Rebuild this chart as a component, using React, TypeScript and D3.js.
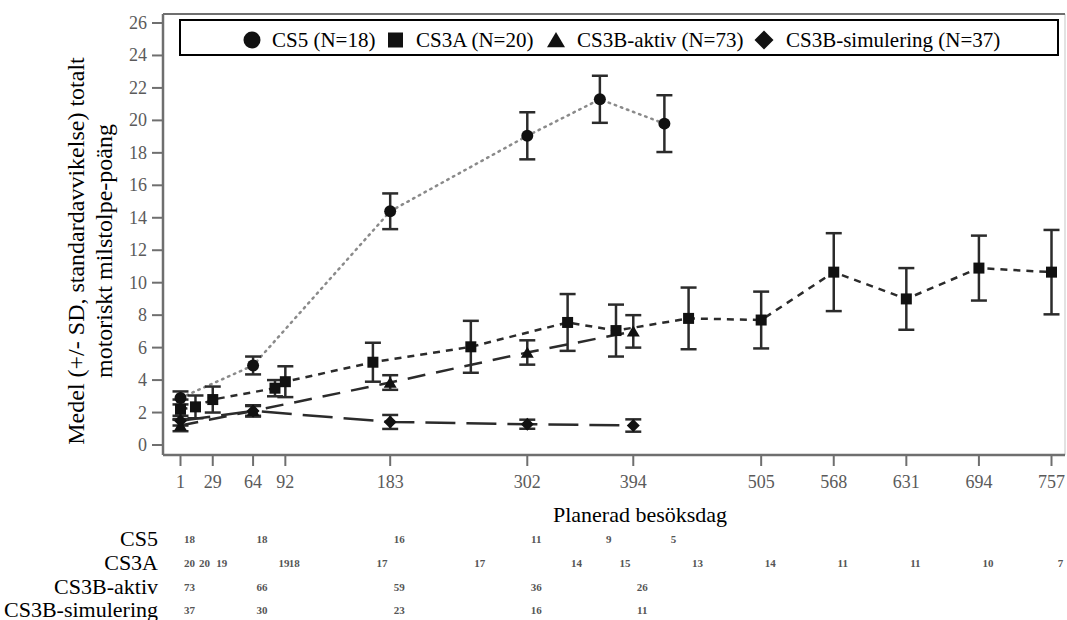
import React from "react";
import * as d3 from "d3";

// visit days, means, SD and number of patients per cohort
const cs5Days = [1, 64, 183, 302, 365, 421];
const cs5Mean = [2.9, 4.9, 14.4, 19.05, 21.3, 19.8];
const cs5Sd = [0.4, 0.55, 1.1, 1.45, 1.45, 1.75];
const cs5N = [18, 18, 16, 11, 9, 5];

const cs3aDays = [1, 14, 29, 83, 92, 168, 253, 337, 379, 442, 505, 568, 631, 694, 757];
const cs3aMean = [2.2, 2.35, 2.8, 3.5, 3.9, 5.1, 6.05, 7.55, 7.05, 7.8, 7.7, 10.65, 9.0, 10.9, 10.65];
const cs3aSd = [0.6, 0.7, 0.8, 0.5, 0.95, 1.2, 1.6, 1.75, 1.6, 1.9, 1.75, 2.4, 1.9, 2.0, 2.6];
const cs3aN = [20, 20, 19, 19, 18, 17, 17, 14, 15, 13, 14, 11, 11, 10, 7];

const aktivDays = [1, 64, 183, 302, 394];
const aktivMean = [1.2, 2.1, 3.85, 5.7, 7.0];
const aktivSd = [0.35, 0.35, 0.45, 0.75, 1.0];
const aktivN = [73, 66, 59, 36, 26];

const simDays = [1, 64, 183, 302, 394];
const simMean = [1.5, 2.1, 1.42, 1.28, 1.2];
const simSd = [0.3, 0.3, 0.43, 0.28, 0.38];
const simN = [37, 30, 23, 16, 11];

const xTicks = [1, 29, 64, 92, 183, 302, 394, 505, 568, 631, 694, 757];
const yTicks = d3.range(0, 27, 2);

const legendLabels = ["CS5 (N=18)", "CS3A (N=20)", "CS3B-aktiv (N=73)", "CS3B-simulering (N=37)"];
const rowLabels = ["CS5", "CS3A", "CS3B-aktiv", "CS3B-simulering"];

const FONT = '"Liberation Serif", "Times New Roman", serif';
const INK = "#2b2b2b";

function Marker({ kind, cx, cy, s }) {
  if (kind === "circle") return <circle cx={cx} cy={cy} r={s / 2} fill="#111" />;
  if (kind === "square")
    return <rect x={cx - s / 2} y={cy - s / 2} width={s} height={s} fill="#111" />;
  if (kind === "triangle")
    return (
      <path
        d={`M${cx - s / 2},${cy + s * 0.4}L${cx + s / 2},${cy + s * 0.4}L${cx},${cy - s * 0.45}Z`}
        fill="#111"
      />
    );
  return (
    <path
      d={`M${cx},${cy - s / 2}L${cx + s / 2},${cy}L${cx},${cy + s / 2}L${cx - s / 2},${cy}Z`}
      fill="#111"
    />
  );
}

export default function App() {
  const width = 1067;
  const height = 620;
  const left = 163;
  const right = 1065;
  const top = 14;
  const bottom = 455;

  const x = d3.scaleLinear().domain([1, 757]).range([180.5, 1051.5]);
  const y = d3.scaleLinear().domain([0, 26]).range([445, 23]);

  const series = [
    { days: cs5Days, mean: cs5Mean, sd: cs5Sd, n: cs5N, kind: "circle", size: 12, dash: "1.5 5", stroke: "#8a8a8a", cap: "round" },
    { days: cs3aDays, mean: cs3aMean, sd: cs3aSd, n: cs3aN, kind: "square", size: 11, dash: "7 6", stroke: INK, cap: "butt" },
    { days: aktivDays, mean: aktivMean, sd: aktivSd, n: aktivN, kind: "triangle", size: 13, dash: "18 11", stroke: INK, cap: "butt" },
    { days: simDays, mean: simMean, sd: simSd, n: simN, kind: "diamond", size: 13, dash: "30 11", stroke: INK, cap: "butt" },
  ];

  const line = d3
    .line()
    .x((d) => x(d[0]))
    .y((d) => y(d[1]));

  // legend layout: symbol centre and text start
  const legendSym = [252, 395.5, 556, 764];
  const legendText = [272, 416, 577, 786];
  const legendSize = [17, 15, 18, 19];

  // baselines of the at-risk table rows
  const rowBase = [546, 570, 594, 617];

  return (
    <svg
      width={width}
      height={height}
      style={{ position: "absolute", left: 0, top: 0, background: "#fff", fontFamily: FONT }}
    >
      {/* frame */}
      <line x1={right} x2={right} y1={top} y2={bottom} stroke="#e2e2e2" strokeWidth={2} />
      <line x1={left} x2={right} y1={top} y2={top} stroke="#6f6f6f" strokeWidth={2} />
      <line x1={left} x2={right} y1={bottom} y2={bottom} stroke="#6f6f6f" strokeWidth={2.5} />
      <line x1={left} x2={left} y1={top} y2={bottom} stroke="#6f6f6f" strokeWidth={2.5} />

      {/* y axis */}
      {yTicks.map((t) => (
        <g key={"y" + t}>
          <line x1={152} x2={left} y1={y(t)} y2={y(t)} stroke="#6f6f6f" strokeWidth={2} />
          <text x={147} y={y(t) + 6} textAnchor="end" fontSize={18} fill="#5a5a5a">
            {t}
          </text>
        </g>
      ))}

      {/* x axis */}
      {xTicks.map((t) => (
        <g key={"x" + t}>
          <line x1={x(t)} x2={x(t)} y1={bottom} y2={466} stroke="#6f6f6f" strokeWidth={2} />
          <text x={x(t)} y={488} textAnchor="middle" fontSize={18} fill="#5a5a5a">
            {t}
          </text>
        </g>
      ))}

      {/* axis titles */}
      <g transform="translate(84,251) rotate(-90)">
        <text textAnchor="middle" fontSize={24} fill="#000">
          Medel (+/- SD, standardavvikelse) totalt
        </text>
        <text y={28} textAnchor="middle" fontSize={24} fill="#000">
          motoriskt milstolpe-poäng
        </text>
      </g>
      <text x={640} y={522} textAnchor="middle" fontSize={22} fill="#000">
        Planerad besöksdag
      </text>

      {/* lines */}
      {series.map((s, i) => (
        <path
          key={"l" + i}
          d={line(s.days.map((d, j) => [d, s.mean[j]]))}
          fill="none"
          stroke={s.stroke}
          strokeWidth={2.5}
          strokeDasharray={s.dash}
          strokeLinecap={s.cap}
        />
      ))}

      {/* error bars */}
      {series.map((s, i) =>
        s.days.map((d, j) => {
          const cx = x(d);
          const y0 = y(s.mean[j] - s.sd[j]);
          const y1 = y(s.mean[j] + s.sd[j]);
          return (
            <g key={`e${i}-${j}`} stroke={INK} strokeWidth={2.5}>
              <line x1={cx} x2={cx} y1={y0} y2={y1} />
              <line x1={cx - 8} x2={cx + 8} y1={y0} y2={y0} />
              <line x1={cx - 8} x2={cx + 8} y1={y1} y2={y1} />
            </g>
          );
        })
      )}

      {/* markers */}
      {series.map((s, i) =>
        s.days.map((d, j) => (
          <Marker key={`m${i}-${j}`} kind={s.kind} cx={x(d)} cy={y(s.mean[j])} s={s.size} />
        ))
      )}

      {/* legend */}
      <rect x={180} y={20} width={878} height={35} fill="#fff" stroke="#000" strokeWidth={2} />
      {series.map((s, i) => (
        <g key={"lg" + i}>
          <Marker kind={s.kind} cx={legendSym[i]} cy={40} s={legendSize[i]} />
          <text x={legendText[i]} y={47} fontSize={21} fill="#000">
            {legendLabels[i]}
          </text>
        </g>
      ))}

      {/* patients at risk table */}
      {series.map((s, i) => (
        <g key={"t" + i}>
          <text x={158} y={rowBase[i]} textAnchor="end" fontSize={22} fill="#000">
            {rowLabels[i]}
          </text>
          {s.days.map((d, j) => (
            <text
              key={j}
              x={x(d) + 9}
              y={rowBase[i] - 3}
              textAnchor="middle"
              fontSize={11}
              fontWeight="bold"
              fill="#555"
            >
              {s.n[j]}
            </text>
          ))}
        </g>
      ))}
    </svg>
  );
}
